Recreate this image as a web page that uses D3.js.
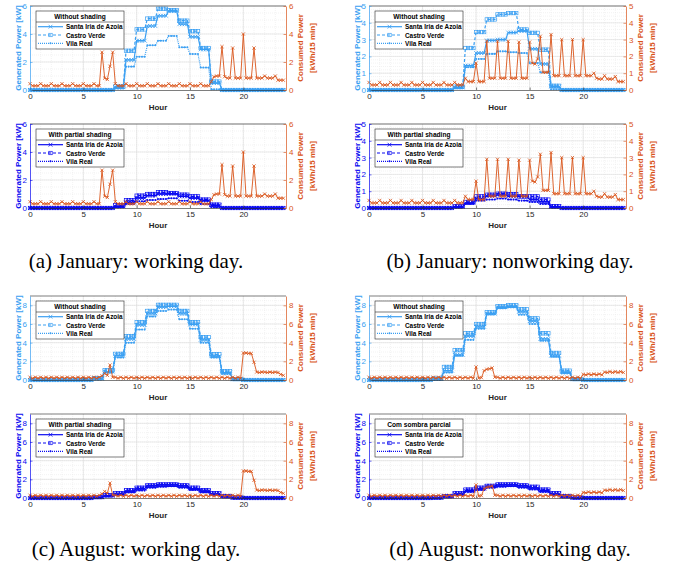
<!DOCTYPE html>
<html>
<head>
<meta charset="utf-8">
<script src="https://cdn.jsdelivr.net/npm/d3@7"></script>
<style>
  body { margin: 0; background: #fff; }
  svg { display: block; }
</style>
</head>
<body>
<svg id="fig" width="673" height="567"></svg>
<script>
// ---- data -------------------------------------------------------------
const seriesNames = ["Santa Iria de Azoia", "Castro Verde", "Vila Real"];
const xTicks = [0, 5, 10, 15, 20];
const captions = ["(a) January: working day.", "(b) January: nonworking day.",
                  "(c) August: working day.", "(d) August: nonworking day."];
const legendTitles = ["Without shading", "With partial shading",
                      "Without shading", "With partial shading",
                      "Without shading", "With partial shading",
                      "Without shading", "Com sombra parcial"];
const yMaxByDay = [6, 5, 9, 9];
const yTicksByDay = [[0, 2, 4, 6], [0, 1, 2, 3, 4, 5], [0, 2, 4, 6, 8], [0, 2, 4, 6, 8]];

// hourly PV generation [kW], hours 0..23 (Santa Iria, Castro Verde, Vila Real)
const genJanWorkSI = [0,0,0,0,0,0,0,0,0.2,2.15,3.52,4.57,5.3,5.65,4.7,3.8,2.9,0.5,0,0,0,0,0,0];
const genJanWorkCV = [0,0,0,0,0,0,0,0,0.25,2.8,4.33,5.1,5.8,5.7,4.95,4.2,3.0,0.6,0,0,0,0,0,0];
const genJanWorkVR = [0,0,0,0,0,0,0,0,0.1,1.67,2.38,3.19,3.52,3.86,3.05,2.57,1.6,0.05,0,0,0,0,0,0];
const shdJanWorkSI = [0,0,0,0,0,0,0,0,0.12,0.4,0.71,0.88,1.0,1.02,0.83,0.71,0.55,0.19,0,0,0,0,0,0];
const shdJanWorkCV = [0,0,0,0,0,0,0,0,0.19,0.55,0.88,1.0,1.12,1.07,0.95,0.83,0.6,0.24,0,0,0,0,0,0];
const shdJanWorkVR = [0,0,0,0,0,0,0,0,0.05,0.29,0.48,0.57,0.64,0.69,0.52,0.43,0.29,0.05,0,0,0,0,0,0];

const genJanOffSI = [0,0,0,0,0,0,0,0,0.15,1.45,2.2,2.95,3.0,3.42,3.52,2.45,1.55,0.2,0,0,0,0,0,0];
const genJanOffCV = [0,0,0,0,0,0,0,0,0.2,2.5,3.45,4.2,4.5,4.58,3.6,3.4,2.4,0.25,0,0,0,0,0,0];
const genJanOffVR = [0,0,0,0,0,0,0,0,0.1,1.35,1.85,2.15,2.3,2.25,2.2,1.6,1.05,0.05,0,0,0,0,0,0];
const shdJanOffSI = [0,0,0,0,0,0,0,0,0.08,0.3,0.56,0.73,0.79,0.69,0.69,0.5,0.36,0.08,0,0,0,0,0,0];
const shdJanOffCV = [0,0,0,0,0,0,0,0,0.1,0.36,0.69,0.79,0.85,0.83,0.69,0.69,0.5,0.1,0,0,0,0,0,0];
const shdJanOffVR = [0,0,0,0,0,0,0,0,0.04,0.24,0.44,0.5,0.56,0.5,0.44,0.36,0.24,0.04,0,0,0,0,0,0];

const genAugWorkSI = [0,0,0,0,0,0,0.15,0.9,2.6,4.4,5.9,7.1,7.8,7.9,7.1,5.95,4.3,2.55,0.8,0.08,0,0,0,0];
const genAugWorkCV = [0,0,0,0,0,0,0.2,1.05,2.8,4.7,6.2,7.4,8.05,8.05,7.4,6.2,4.6,2.75,0.95,0.1,0,0,0,0];
const genAugWorkVR = [0,0,0,0,0,0,0.1,0.8,2.4,4.0,5.4,6.8,7.4,7.55,6.5,5.5,4.0,2.4,0.65,0.05,0,0,0,0];
const shdAugWorkSI = [0,0,0,0,0,0,0.08,0.25,0.45,0.75,1.0,1.3,1.4,1.42,1.3,1.0,0.75,0.45,0.18,0.04,0,0,0,0];
const shdAugWorkCV = [0,0,0,0,0,0,0.1,0.3,0.5,0.85,1.1,1.35,1.45,1.45,1.35,1.1,0.85,0.5,0.2,0.05,0,0,0,0];
const shdAugWorkVR = [0,0,0,0,0,0,0.05,0.2,0.35,0.6,0.8,1.1,1.2,1.25,1.1,0.85,0.6,0.35,0.12,0.02,0,0,0,0];

const genAugOffSI = [0,0,0,0,0,0,0.12,1.0,2.7,4.7,5.7,7.1,7.8,7.9,7.3,6.3,4.4,2.6,0.85,0.08,0,0,0,0];
const genAugOffCV = [0,0,0,0,0,0,0.15,1.4,3.2,5.0,6.0,7.25,7.9,8.0,7.6,6.6,5.0,2.9,1.0,0.1,0,0,0,0];
const genAugOffVR = [0,0,0,0,0,0,0.08,0.8,2.6,4.3,5.5,7.05,7.7,7.8,7.0,6.0,4.2,2.5,0.7,0.05,0,0,0,0];
const shdAugOffSI = [0,0,0,0,0,0,0.04,0.18,0.45,0.8,1.0,1.25,1.4,1.42,1.3,1.1,0.8,0.45,0.18,0.04,0,0,0,0];
const shdAugOffCV = [0,0,0,0,0,0,0.05,0.2,0.5,0.9,1.1,1.3,1.45,1.45,1.35,1.2,0.9,0.5,0.2,0.05,0,0,0,0];
const shdAugOffVR = [0,0,0,0,0,0,0.02,0.12,0.35,0.65,0.85,1.1,1.2,1.25,1.1,0.9,0.65,0.35,0.12,0.02,0,0,0,0];

// consumption [kWh/15 min], one row of four quarter-hours per hour
const consJanWork = [
  [0.45,0.3,0.3,0.3],[0.45,0.3,0.3,0.3],[0.45,0.3,0.3,0.3],[0.45,0.3,0.3,0.3],
  [0.45,0.3,0.3,0.3],[0.45,0.3,0.3,0.3],[0.45,0.3,0.3,2.7],[0.85,0.75,1.7,2.7],
  [0.45,0.3,0.3,0.3],[0.45,0.3,0.3,0.3],[0.45,0.3,0.3,0.3],[0.45,0.3,0.3,0.3],
  [0.45,0.3,0.3,0.3],[0.45,0.3,0.3,0.3],[0.45,0.3,0.3,0.3],[0.45,0.3,0.3,0.3],
  [0.45,0.3,0.3,0.3],[0.6,0.95,1.0,1.0],[3.1,0.95,0.85,0.85],[3.0,0.85,0.85,0.85],
  [4.0,0.85,0.85,0.85],[3.0,0.85,0.85,0.85],[1.0,0.85,0.85,0.85],[1.0,0.7,0.7,0.7]
];
const consJanOff = [
  [0.45,0.3,0.3,0.3],[0.45,0.3,0.3,0.3],[0.45,0.3,0.3,0.3],[0.45,0.3,0.3,0.3],
  [0.45,0.3,0.3,0.3],[0.45,0.3,0.3,0.3],[0.45,0.3,0.3,0.3],[0.45,0.3,0.3,0.3],
  [0.45,0.3,0.3,0.3],[0.7,0.5,0.5,0.5],[1.6,0.5,0.5,0.5],[2.9,0.7,0.7,0.7],
  [2.9,0.7,0.7,0.7],[2.9,0.7,0.7,0.7],[2.85,0.7,0.7,0.7],[2.85,1.6,1.55,1.85],
  [3.2,1.05,1.05,1.05],[3.3,0.85,0.85,0.85],[3.0,0.85,0.85,0.85],[3.0,0.85,0.85,0.85],
  [3.0,0.85,0.85,0.85],[1.0,0.7,0.65,0.65],[0.85,0.65,0.65,0.65],[0.8,0.5,0.5,0.5]
];
const consAugWork = [
  [0.3,0.18,0.3,0.18],[0.3,0.18,0.3,0.18],[0.3,0.18,0.3,0.18],[0.3,0.18,0.3,0.18],
  [0.3,0.18,0.3,0.18],[0.3,0.18,0.3,0.18],[0.3,0.18,0.3,0.45],[0.7,0.5,1.6,0.3],
  [0.3,0.18,0.3,0.18],[0.3,0.18,0.3,0.18],[0.3,0.18,0.3,0.18],[0.3,0.18,0.3,0.18],
  [0.3,0.18,0.3,0.18],[0.3,0.18,0.3,0.18],[0.3,0.18,0.3,0.18],[0.3,0.18,0.3,0.18],
  [0.3,0.18,0.3,0.18],[0.3,0.18,0.3,0.18],[0.3,0.18,0.3,0.18],[0.3,0.18,0.3,0.18],
  [2.9,2.9,2.85,2.85],[1.9,0.85,0.8,0.85],[0.85,0.8,0.85,0.8],[0.85,0.8,0.6,0.5]
];
const consAugOff = [
  [0.3,0.18,0.3,0.18],[0.3,0.18,0.3,0.18],[0.3,0.18,0.3,0.18],[0.3,0.18,0.3,0.18],
  [0.3,0.18,0.3,0.18],[0.3,0.18,0.3,0.18],[0.3,0.18,0.3,0.18],[0.3,0.18,0.3,0.18],
  [0.3,0.18,0.3,0.18],[0.3,0.18,0.3,0.18],[1.4,0.2,0.25,1.0],[1.15,1.2,1.3,0.3],
  [0.3,0.18,0.3,0.18],[0.3,0.18,0.3,0.18],[0.3,0.18,0.3,0.18],[0.3,0.18,0.3,0.18],
  [0.3,0.18,0.3,0.18],[0.3,0.18,0.3,0.18],[0.3,0.18,0.3,0.18],[0.3,0.18,0.3,0.18],
  [0.6,0.55,0.65,0.55],[0.65,0.55,0.65,0.55],[0.85,0.8,0.9,0.8],[0.9,0.8,0.9,0.8]
];

// ---- layout & style ---------------------------------------------------
const LIGHT = "#3a9ff2", DARK = "#0a0af0", ORANGE = "#d95319", INK = "#262626";
const FONT = "'Liberation Sans', Arial, Helvetica, sans-serif";
const colX = [{x0: 30, x1: 286}, {x0: 369, x1: 626}];
const rowTop = [6, 124, 296, 414];
const plotH = 84;

const days = [
  {cons: consJanWork, gen: [genJanWorkSI, genJanWorkCV, genJanWorkVR], shd: [shdJanWorkSI, shdJanWorkCV, shdJanWorkVR]},
  {cons: consJanOff,  gen: [genJanOffSI,  genJanOffCV,  genJanOffVR],  shd: [shdJanOffSI,  shdJanOffCV,  shdJanOffVR]},
  {cons: consAugWork, gen: [genAugWorkSI, genAugWorkCV, genAugWorkVR], shd: [shdAugWorkSI, shdAugWorkCV, shdAugWorkVR]},
  {cons: consAugOff,  gen: [genAugOffSI,  genAugOffCV,  genAugOffVR],  shd: [shdAugOffSI,  shdAugOffCV,  shdAugOffVR]}
];

const svg = d3.select("#fig");
svg.append("rect").attr("width", 673).attr("height", 567).attr("fill", "#fff");

// quarter-hour samples of an hourly series
const toQuarter = hourly => hourly.flatMap((v, h) => [0, 1, 2, 3].map(q => ({t: h + q / 4, v})));
const consPoints = rows => rows.flatMap((r, h) => r.map((v, q) => ({t: h + q / 4, v})));

function marker(sel, kind, color, s) {
  if (kind === "x") {
    sel.append("path").attr("d", `M${-s},${-s}L${s},${s}M${-s},${s}L${s},${-s}`)
      .attr("stroke", color).attr("stroke-width", 0.8).attr("fill", "none");
  } else if (kind === "sq") {
    sel.append("rect").attr("x", -s).attr("y", -s).attr("width", 2 * s).attr("height", 2 * s)
      .attr("stroke", color).attr("stroke-width", 0.7).attr("fill", "none");
  } else {
    sel.append("circle").attr("r", s * 0.6).attr("fill", color);
  }
}

const styles = [
  {kind: "x", dash: null, size: 1.9},
  {kind: "sq", dash: "3,2", size: 1.7},
  {kind: "dot", dash: "1,1", size: 1.7}
];

function drawPanel(day, shaded, col, row, title) {
  const {x0, x1} = colX[col];
  const y0 = rowTop[row], y1 = y0 + plotH;
  const ymax = yMaxByDay[day];
  const ticks = yTicksByDay[day];
  const color = shaded ? DARK : LIGHT;
  const x = d3.scaleLinear().domain([0, 24]).range([x0, x1]);
  const yL = d3.scaleLinear().domain([0, ymax]).range([y1, y0]);
  const yR = d3.scaleLinear().domain([0, ymax]).range([y1, y0]);
  const g = svg.append("g");

  // minor grid
  const minorStep = ticks[1] - ticks[0] === 1 ? 0.2 : 0.5;
  const grid = g.append("g");
  grid.selectAll(".mx").data(d3.range(1, 24)).join("line")
    .attr("x1", d => x(d)).attr("x2", d => x(d)).attr("y1", y0).attr("y2", y1)
    .attr("stroke", "#e6e6e6").attr("stroke-width", 0.5).attr("stroke-dasharray", "1,1");
  grid.selectAll(".my").data(d3.range(minorStep, ymax, minorStep)).join("line")
    .attr("x1", x0).attr("x2", x1).attr("y1", d => yL(d)).attr("y2", d => yL(d))
    .attr("stroke", "#e6e6e6").attr("stroke-width", 0.5).attr("stroke-dasharray", "1,1");
  // major grid
  grid.selectAll(".gx").data(xTicks.slice(1)).join("line")
    .attr("x1", d => x(d)).attr("x2", d => x(d)).attr("y1", y0).attr("y2", y1)
    .attr("stroke", "#dcdcdc").attr("stroke-width", 0.6);
  grid.selectAll(".gy").data(ticks.slice(1)).join("line")
    .attr("x1", x0).attr("x2", x1).attr("y1", d => yL(d)).attr("y2", d => yL(d))
    .attr("stroke", "#dcdcdc").attr("stroke-width", 0.6);

  // generation series
  const series = shaded ? days[day].shd : days[day].gen;
  const line = d3.line().x(d => x(d.t)).y(d => yL(d.v));
  series.forEach((hourly, i) => {
    const pts = toQuarter(hourly);
    const st = styles[i];
    g.append("path").attr("d", line(pts)).attr("fill", "none")
      .attr("stroke", color).attr("stroke-width", 1.2)
      .attr("stroke-dasharray", st.dash);
    const m = g.append("g");
    pts.forEach(p => {
      const mg = m.append("g").attr("transform", `translate(${x(p.t)},${yL(p.v)})`);
      marker(mg, st.kind, color, st.size);
    });
  });

  // consumption
  const cp = consPoints(days[day].cons);
  const cline = d3.line().x(d => x(d.t)).y(d => yR(d.v));
  g.append("path").attr("d", cline(cp)).attr("fill", "none")
    .attr("stroke", ORANGE).attr("stroke-width", 0.9);
  const cm = g.append("g");
  cp.forEach(p => {
    const mg = cm.append("g").attr("transform", `translate(${x(p.t)},${yR(p.v)})`);
    marker(mg, "x", ORANGE, 1.6);
  });

  // box top edge
  g.append("line").attr("x1", x0).attr("x2", x1).attr("y1", y0).attr("y2", y0)
    .attr("stroke", INK).attr("stroke-width", 0.6);

  // axes
  const fs = 8;
  const ax = g.append("g").attr("transform", `translate(0,${y1})`)
    .call(d3.axisBottom(x).tickValues(xTicks).tickSize(-2.5).tickSizeOuter(0).tickPadding(3));
  ax.select(".domain").attr("stroke", INK).attr("stroke-width", 0.6);
  ax.selectAll(".tick line").attr("stroke", INK).attr("stroke-width", 0.6);
  ax.selectAll("text").attr("fill", INK).style("font", `${fs}px ${FONT}`);

  const al = g.append("g").attr("transform", `translate(${x0},0)`)
    .call(d3.axisLeft(yL).tickValues(ticks).tickFormat(d3.format("d")).tickSize(-2.5).tickSizeOuter(0).tickPadding(3));
  al.select(".domain").attr("stroke", color).attr("stroke-width", 0.7);
  al.selectAll(".tick line").attr("stroke", color).attr("stroke-width", 0.6);
  al.selectAll("text").attr("fill", color).style("font", `${fs}px ${FONT}`);

  const ar = g.append("g").attr("transform", `translate(${x1},0)`)
    .call(d3.axisRight(yR).tickValues(ticks).tickFormat(d3.format("d")).tickSize(-2.5).tickSizeOuter(0).tickPadding(3));
  ar.select(".domain").attr("stroke", ORANGE).attr("stroke-width", 0.7);
  ar.selectAll(".tick line").attr("stroke", ORANGE).attr("stroke-width", 0.6);
  ar.selectAll("text").attr("fill", ORANGE).style("font", `${fs}px ${FONT}`);

  // axis labels
  const ym = (y0 + y1) / 2;
  const lab = `bold 8px ${FONT}`;
  g.append("text").attr("transform", `translate(${x0 - 12},${ym}) rotate(-90)`)
    .attr("text-anchor", "middle").attr("dominant-baseline", "central")
    .attr("fill", color).style("font", lab).text("Generated Power [kW]");
  g.append("text").attr("transform", `translate(${x1 + 14},${ym}) rotate(-90)`)
    .attr("text-anchor", "middle").attr("dominant-baseline", "central")
    .attr("fill", ORANGE).style("font", lab).text("Consumed Power");
  g.append("text").attr("transform", `translate(${x1 + 26},${ym}) rotate(-90)`)
    .attr("text-anchor", "middle").attr("dominant-baseline", "central")
    .attr("fill", ORANGE).style("font", lab).text("[kWh/15 min]");
  g.append("text").attr("x", (x0 + x1) / 2).attr("y", y1 + 20)
    .attr("text-anchor", "middle").attr("fill", INK)
    .style("font", lab).text("Hour");

  // legend
  const lx = x0 + 6, ly = y0 + 5, lw = 88, lh = 38;
  const lg = g.append("g");
  lg.append("rect").attr("x", lx).attr("y", ly).attr("width", lw).attr("height", lh)
    .attr("fill", "#fff").attr("stroke", INK).attr("stroke-width", 0.6);
  lg.append("line").attr("x1", lx).attr("x2", lx + lw).attr("y1", ly + 11).attr("y2", ly + 11)
    .attr("stroke", INK).attr("stroke-width", 0.6);
  lg.append("text").attr("x", lx + lw / 2).attr("y", ly + 5.7)
    .attr("text-anchor", "middle").attr("dominant-baseline", "central")
    .attr("fill", "#000").style("font", `bold 6.6px ${FONT}`).text(title);
  seriesNames.forEach((name, i) => {
    const yy = ly + 15.7 + i * 8.3;
    const st = styles[i];
    lg.append("line").attr("x1", lx + 2).attr("x2", lx + 27).attr("y1", yy).attr("y2", yy)
      .attr("stroke", color).attr("stroke-width", 1.2).attr("stroke-dasharray", st.dash);
    const mg = lg.append("g").attr("transform", `translate(${lx + 14.5},${yy})`);
    marker(mg, st.kind, color, st.size);
    lg.append("text").attr("x", lx + 30).attr("y", yy)
      .attr("dominant-baseline", "central").attr("fill", "#000")
      .style("font", `bold 6.4px ${FONT}`).text(name);
  });
}

let k = 0;
for (let day = 0; day < 4; day++) {
  const col = day % 2;
  const rowBase = day < 2 ? 0 : 2;
  drawPanel(day, false, col, rowBase, legendTitles[k++]);
  drawPanel(day, true, col, rowBase + 1, legendTitles[k++]);
}

// sub-figure captions
const capPos = [{x: 136, y: 268}, {x: 510, y: 268}, {x: 136, y: 556}, {x: 510, y: 556}];
captions.forEach((c, i) => {
  svg.append("text").attr("x", capPos[i].x).attr("y", capPos[i].y)
    .attr("text-anchor", "middle").attr("fill", "#000")
    .style("font", "21px 'Liberation Serif', 'Times New Roman', serif").text(c);
});
</script>
</body>
</html>
